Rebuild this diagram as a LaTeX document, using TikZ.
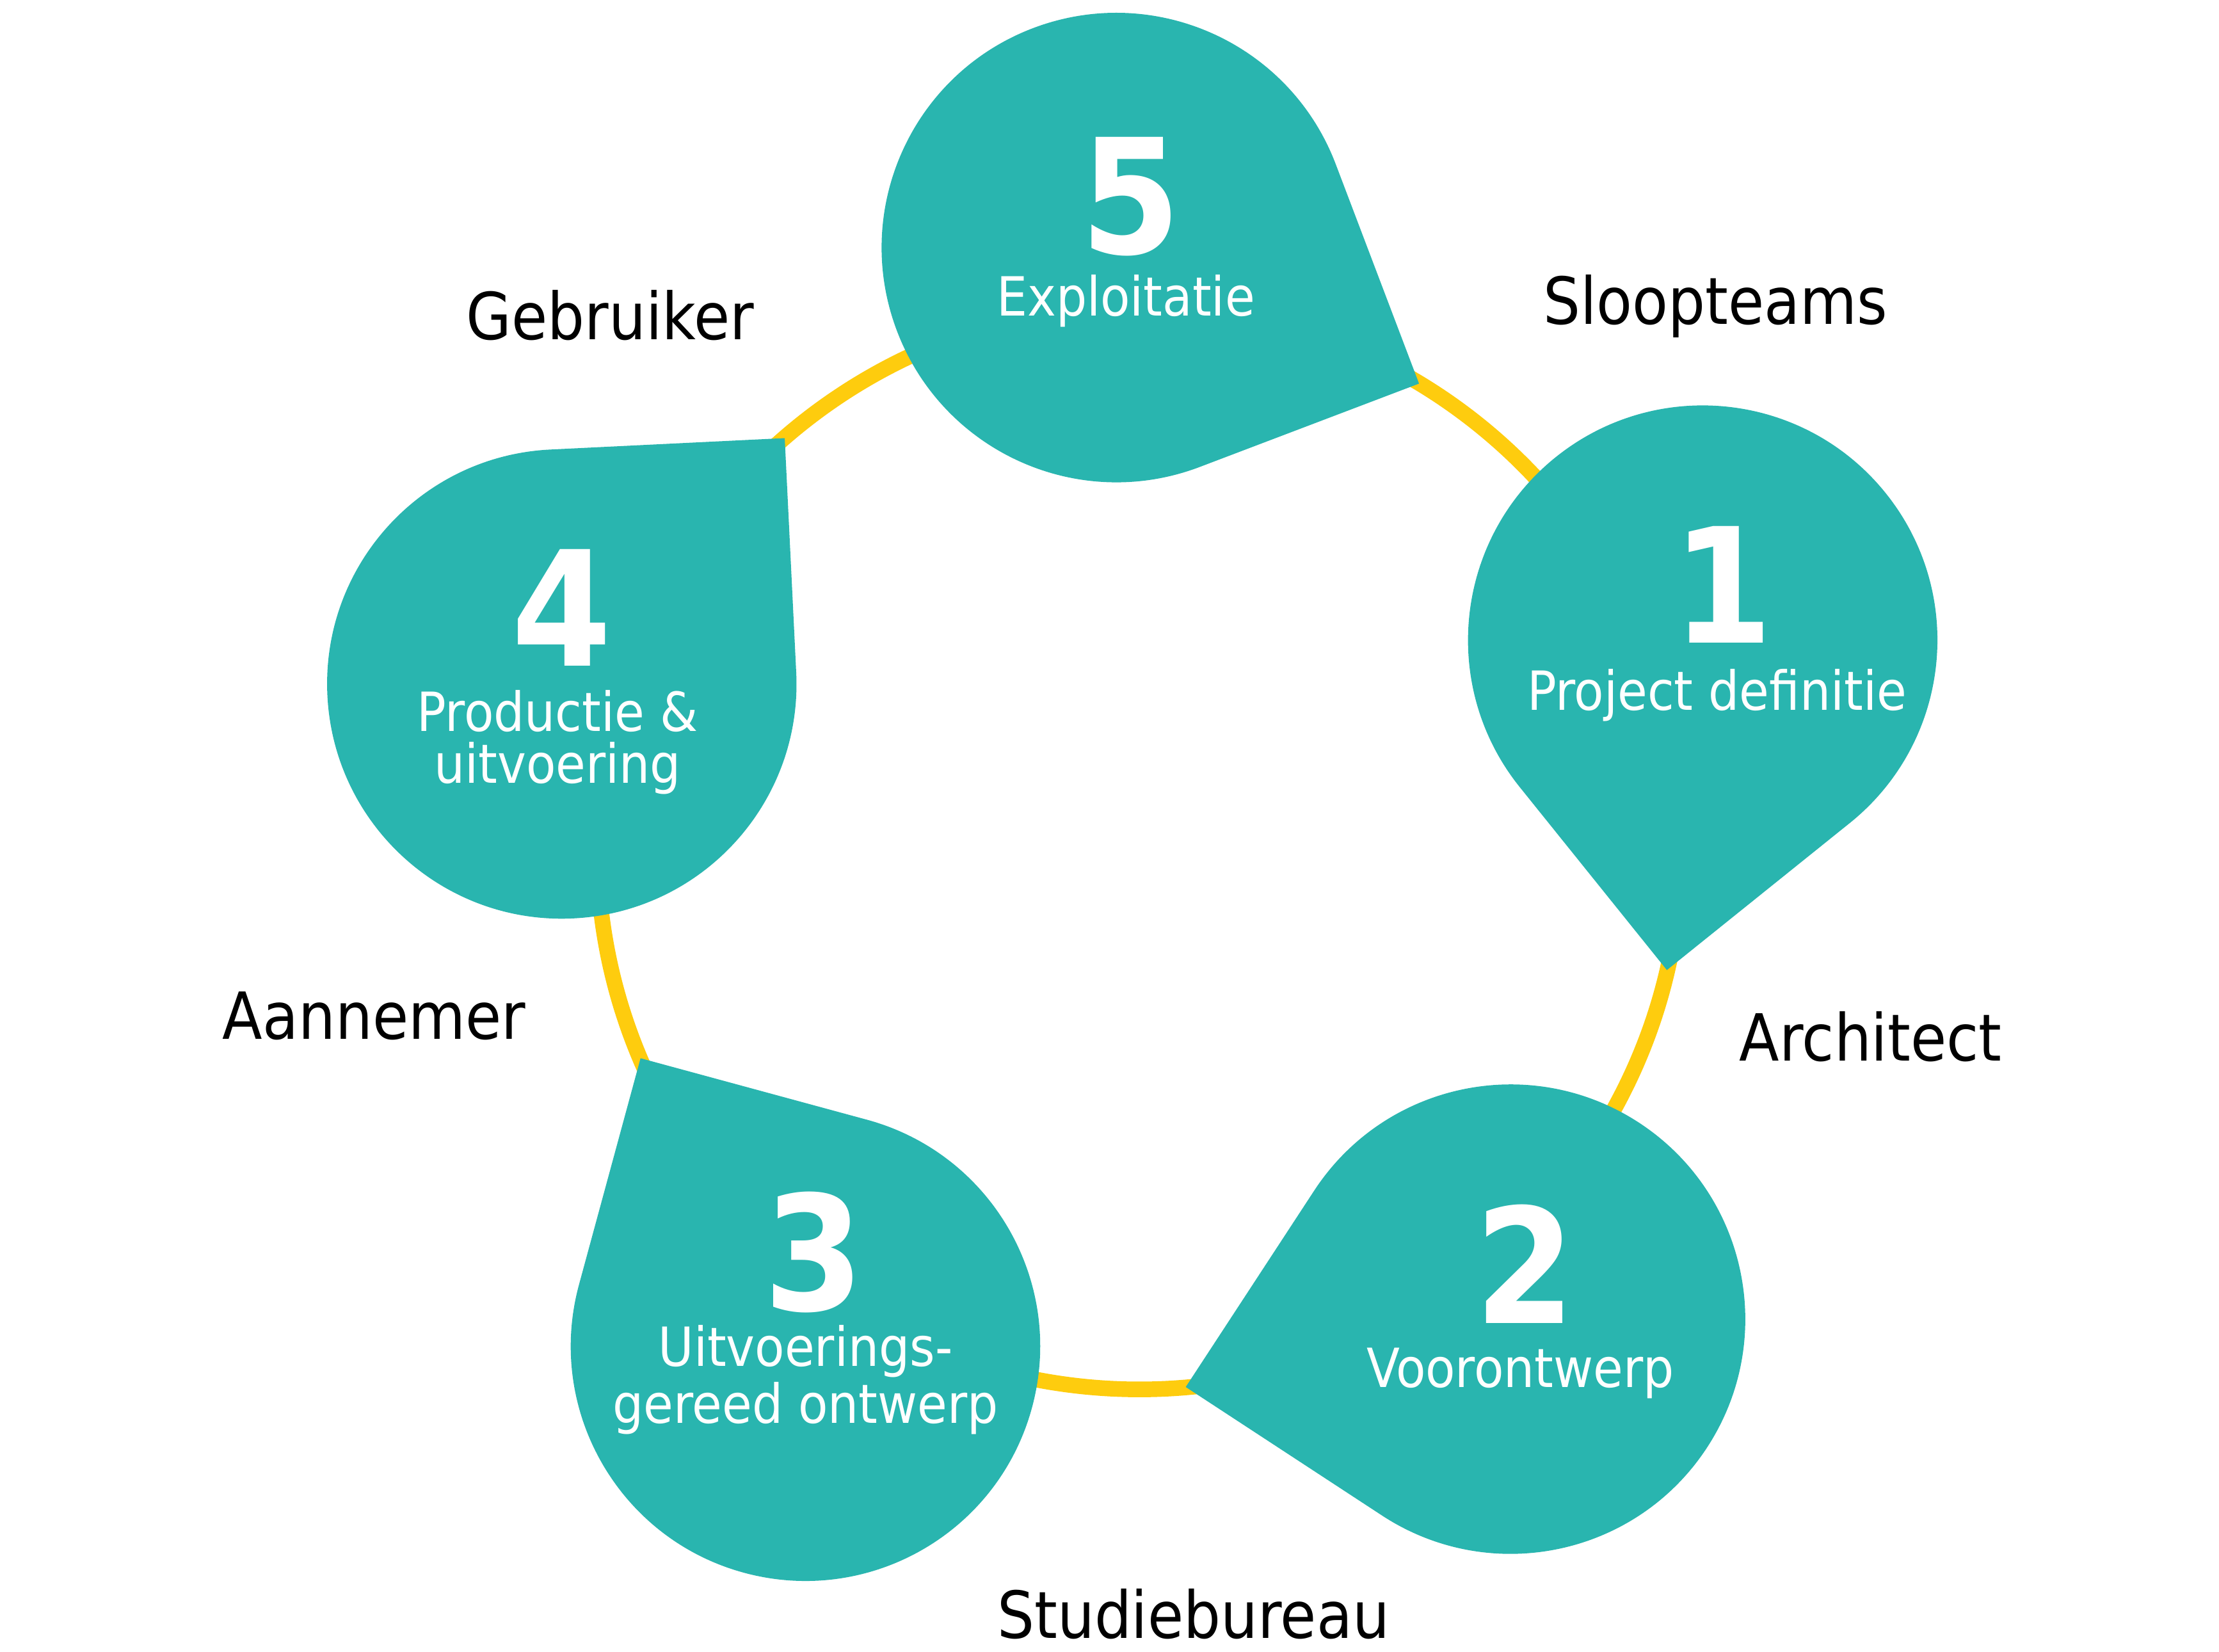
\documentclass[tikz,border=0pt]{standalone}
\usepackage{fontspec}
\setmainfont{DejaVu Sans Condensed}
\usetikzlibrary{calc}

\definecolor{dropteal}{RGB}{41,181,175}
\definecolor{ringyellow}{RGB}{254,204,14}

\tikzset{
  stepnum/.style={text=white, anchor=base, inner sep=0pt, font=\fontsize{32}{36}\selectfont\bfseries},
  steplabel/.style={text=white, anchor=base, inner sep=0pt, align=center, font=\fontsize{10.8}{10.4}\selectfont},
  actorlabel/.style={text=black, anchor=base, inner sep=0pt, font=\fontsize{13}{15}\selectfont}
}

\begin{document}
\begin{tikzpicture}
  \useasboundingbox (-8.01,-5.656) rectangle (7.59,5.957);

  % constants
  \def\rDrop{1.65}% drop radius
  \def\rRing{3.81}% yellow ring
  \def\rCent{4.22}% drop centres

  \draw[ringyellow, line width=0.11cm] (0,0) circle (\rRing);% ring

  % drops, tip on the ring
  \foreach \ang/\nm in {92.2/d5, 20.2/d1, -51.8/d2, -123.8/d3, -195.8/d4}{
    \fill[dropteal, shift={(\ang:\rCent)}, rotate=\ang+243.6]
      (45:\rDrop) -- (1.414*\rDrop,0) -- (-45:\rDrop)
      arc[start angle=-45, end angle=-315, radius=\rDrop] -- cycle;
    \coordinate (\nm) at (\ang:\rCent);
  }

  % numbers and phases (last baseline of the phase text)
  \node[stepnum] (n1) at ($(d1)+(0.14,-0.02)$) {1};
  \node[steplabel] (p1) at ($(d1)+(0.10,-0.49)$) {Project definitie};
  \node[stepnum] (n2) at ($(d2)+(0.10,-0.03)$) {2};
  \node[steplabel] (p2) at ($(d2)+(0.07,-0.48)$) {Voorontwerp};
  \node[stepnum] (n3) at ($(d3)+(0.06,0.25)$) {3};
  \node[steplabel] (p3) at ($(d3)+(0.0,-0.543)$) {Uitvoerings-\\gereed ontwerp};
  \node[stepnum] (n4) at ($(d4)+(0.0,0.128)$) {4};
  \node[steplabel] (p4) at ($(d4)+(-0.03,-0.699)$) {Productie \&\\uitvoering};
  \node[stepnum] (n5) at ($(d5)+(0.10,-0.045)$) {5};
  \node[steplabel] (p5) at ($(d5)+(0.067,-0.479)$) {Exploitatie};

  % actors
  \node[actorlabel] (sloop) at (4.05,3.68) {Sloopteams};
  \node[actorlabel] (arch) at (5.14,-1.50) {Architect};
  \node[actorlabel] (studie) at (0.38,-5.56) {Studiebureau};
  \node[actorlabel] (aann) at (-5.38,-1.35) {Aannemer};
  \node[actorlabel] (gebr) at (-3.72,3.57) {Gebruiker};

\end{tikzpicture}
\end{document}
